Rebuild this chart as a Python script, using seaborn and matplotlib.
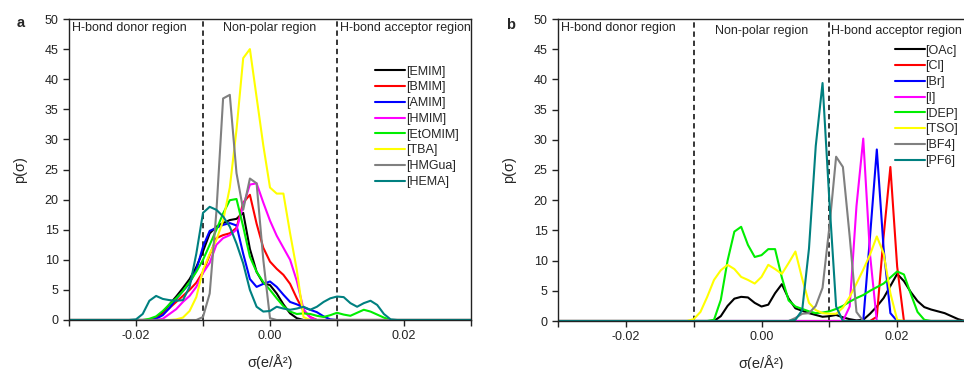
import numpy as np
import pandas as pd
import matplotlib
matplotlib.use('Agg')
import matplotlib.pyplot as plt
from matplotlib.lines import Line2D
import seaborn as sns

# sigma grid of the profiles (e/A^2), step 0.001 from -0.03 to 0.03
sigma = np.round(np.linspace(-0.03, 0.03, 61), 3)

# panel a: cations
cations = ['[EMIM]', '[BMIM]', '[AMIM]', '[HMIM]', '[EtOMIM]', '[TBA]', '[HMGua]', '[HEMA]']
emim = [0] * 10 + \
    [0, 0, 0, 0.3, 1.3, 2.6, 3.9, 5.3, 6.8, 8.8] + \
    [11.4, 14.4, 15.5, 16.1, 16.6, 16.8, 17.8, 11.8, 8.0, 6.1] + \
    [5.8, 4.4, 2.6, 1.1, 0.3, 0, 0, 0, 0, 0] + [0] * 21
bmim = [0] * 10 + \
    [0, 0, 0, 0.3, 1.0, 2.0, 3.0, 4.0, 5.0, 6.2] + \
    [8.0, 10.8, 13.6, 14.1, 14.4, 15.3, 19.5, 20.8, 16.0, 12.0] + \
    [9.7, 8.5, 7.5, 6.0, 3.6, 1.5, 0.5, 0, 0, 0] + [0] * 21
amim = [0] * 10 + \
    [0, 0, 0, 0.2, 0.8, 2.0, 3.5, 4.8, 6.1, 8.3] + \
    [12.2, 14.8, 15.3, 15.8, 16.1, 15.7, 11.0, 6.8, 5.5, 6.0] + \
    [6.4, 5.5, 4.2, 3.0, 2.6, 2.1, 1.7, 1.3, 0.6, 0.1] + [0] * 21
hmim = [0] * 10 + \
    [0, 0, 0, 0, 0.2, 1.0, 1.8, 3.0, 4.0, 5.5] + \
    [7.8, 9.5, 12.5, 13.6, 14.1, 15.0, 19.0, 22.5, 22.7, 19.5] + \
    [16.5, 14.0, 12.0, 10.0, 6.5, 1.8, 0.4, 0, 0, 0] + [0] * 21
etomim = [0] * 10 + \
    [0, 0, 0.2, 0.6, 1.5, 2.6, 3.6, 4.8, 6.3, 8.0] + \
    [10.0, 12.5, 15.0, 17.7, 19.9, 20.1, 15.5, 10.5, 8.0, 6.3] + \
    [5.0, 3.6, 2.3, 1.4, 1.0, 1.1, 1.0, 0.7, 0.5, 0.8] + \
    [1.2, 0.9, 0.7, 1.2, 1.7, 1.4, 0.9, 0.4, 0, 0] + [0] * 11
tba = [0] * 10 + \
    [0, 0, 0, 0, 0, 0, 0.1, 0.4, 1.5, 3.8] + \
    [8.3, 11.0, 13.3, 16.5, 22.0, 31.6, 43.5, 45.0, 37.0, 29.0] + \
    [22.0, 21.0, 21.0, 14.4, 8.3, 0.5, 0, 0, 0, 0] + [0] * 21
hmgua = [0] * 20 + \
    [0.5, 4.4, 18.0, 36.8, 37.4, 24.4, 18.3, 23.5, 22.7, 10.0] + \
    [0.3, 0, 0, 0, 0, 0, 0, 0, 0, 0] + [0] * 21
hema = [0] * 10 + \
    [0.1, 1.0, 3.2, 4.0, 3.5, 3.3, 3.2, 3.3, 5.5, 11.0] + \
    [17.8, 18.8, 18.3, 17.2, 15.5, 12.7, 9.4, 5.0, 2.2, 1.4] + \
    [1.5, 2.2, 1.9, 1.7, 1.9, 2.2, 1.7, 2.2, 3.0, 3.6] + \
    [3.9, 3.8, 2.8, 2.2, 2.8, 3.2, 2.5, 1.0, 0.1, 0] + [0] * 11

# panel b: anions
anions = ['[OAc]', '[Cl]', '[Br]', '[I]', '[DEP]', '[TSO]', '[BF4]', '[PF6]']
oac = [0] * 20 + \
    [0, 0, 0, 0, 0.8, 2.5, 3.7, 4.0, 3.9, 3.0] + \
    [2.4, 2.7, 4.6, 6.1, 3.7, 2.1, 1.7, 1.3, 1.0, 0.7] + \
    [0.8, 1.0, 0.6, 0.3, 0.1, 0.2, 1.2, 2.4, 3.8, 5.8] + \
    [7.8, 6.6, 4.8, 3.3, 2.3, 1.9, 1.6, 1.3, 0.8, 0.3, 0]
cl = [0] * 40 + \
    [0, 0, 0, 0, 0, 0, 0, 0.7, 14.0, 25.5] + \
    [9.0, 0, 0, 0, 0, 0, 0, 0, 0, 0, 0]
br = [0] * 40 + \
    [0, 0, 0, 0, 0, 0, 14.0, 28.4, 12.0, 1.3] + [0] * 11
iodide = [0] * 40 + \
    [0, 0, 0, 2.4, 19.0, 30.2, 11.0, 0, 0, 0] + [0] * 11
dep = [0] * 20 + \
    [0, 0, 0, 0.2, 3.5, 10.0, 14.8, 15.6, 12.6, 10.6] + \
    [10.9, 11.9, 11.9, 7.2, 3.4, 2.4, 2.0, 1.6, 1.3, 1.4] + \
    [1.6, 2.0, 2.5, 3.2, 3.8, 4.3, 5.0, 5.6, 6.2, 7.2] + \
    [8.2, 7.7, 4.5, 1.5, 0.2, 0, 0, 0, 0, 0, 0]
tso = [0] * 20 + \
    [0.3, 1.5, 4.0, 6.8, 8.4, 9.3, 8.6, 7.3, 6.8, 6.2] + \
    [7.3, 9.3, 8.6, 7.8, 9.6, 11.5, 7.0, 3.0, 1.8, 1.3] + \
    [1.2, 1.2, 2.2, 4.0, 6.2, 8.5, 11.0, 14.0, 11.2, 4.6] + \
    [0.2, 0, 0, 0, 0, 0, 0, 0, 0, 0, 0]
bf4 = [0] * 30 + \
    [0, 0, 0, 0, 0, 0.5, 1.2, 1.3, 2.5, 5.5] + \
    [15.5, 27.2, 25.5, 14.0, 1.5, 0, 0, 0, 0, 0] + [0] * 11
pf6 = [0] * 30 + \
    [0, 0, 0, 0, 0, 0.2, 1.8, 12.0, 29.0, 39.4] + \
    [20.0, 2.4, 0, 0, 0, 0, 0, 0, 0, 0] + [0] * 11

colors = ['#000000', '#ff0000', '#0000ff', '#ff00ff', '#00ee00', '#ffff00', '#808080', '#008080']

df_a = pd.DataFrame({
    'sigma': np.tile(sigma, len(cations)),
    'p': np.concatenate([emim, bmim, amim, hmim, etomim, tba, hmgua, hema]),
    'ion': np.repeat(cations, len(sigma)),
})
df_b = pd.DataFrame({
    'sigma': np.tile(sigma, len(anions)),
    'p': np.concatenate([oac, cl, br, iodide, dep, tso, bf4, pf6]),
    'ion': np.repeat(anions, len(sigma)),
})

sns.set_style('ticks')
plt.rcParams['font.family'] = ['Liberation Sans', 'DejaVu Sans']

fig = plt.figure(figsize=(9.64, 3.69), dpi=100)
ax_a = fig.add_axes([69 / 964, 49 / 369, 402 / 964, 301 / 369])
ax_b = fig.add_axes([558 / 964, 48 / 369, 407 / 964, 302 / 369])

panels = [(ax_a, df_a, cations, (0.762, 0.845)), (ax_b, df_b, anions, (0.828, 0.915))]
for ax, df, names, leg_pos in panels:
    sns.lineplot(data=df, x='sigma', y='p', hue='ion', hue_order=names, palette=colors,
                 lw=1.5, estimator=None, sort=False, legend=False, ax=ax)
    for xv in (-0.01, 0.01):
        ax.axvline(xv, color='black', ls=(0, (3.5, 2.5)), lw=1.1, zorder=1)
    ax.set_xlim(-0.03, 0.03)
    ax.set_ylim(0, 50)
    ax.set_xticks([-0.03, -0.02, -0.01, 0.0, 0.01, 0.02, 0.03])
    ax.set_xticklabels(['', '-0.02', '', '0.00', '', '0.02', ''])
    ax.set_yticks(range(0, 51, 5))
    ax.tick_params(direction='out', length=4, width=1, labelsize=9, colors='#222222')
    for s in ax.spines.values():
        s.set_linewidth(1.0)
        s.set_color('#222222')
    ax.set_xlabel('σ(e/Å²)', fontsize=10.5)
    ax.set_ylabel('p(σ)', fontsize=10.5)
    ax.xaxis.set_label_coords(0.5, -0.112)
    ax.yaxis.set_label_coords(-0.104, 0.5)
    handles = [Line2D([], [], color=c, lw=1.5) for c in colors]
    ax.legend(handles, names, loc='upper left', bbox_to_anchor=leg_pos, frameon=False,
              fontsize=9, handlelength=2.4, handletextpad=0.05, labelspacing=0.3,
              borderpad=0, borderaxespad=0)

ax_a.text(-0.0295, 48.5, 'H-bond donor region', fontsize=9, va='center', ha='left')
ax_a.text(0.0, 48.5, 'Non-polar region', fontsize=9, va='center', ha='center')
ax_a.text(0.0104, 48.5, 'H-bond acceptor region', fontsize=9, va='center', ha='left')
ax_b.text(-0.0295, 48.5, 'H-bond donor region', fontsize=9, va='center', ha='left')
ax_b.text(0.0, 48.0, 'Non-polar region', fontsize=9, va='center', ha='center')
ax_b.text(0.0102, 48.0, 'H-bond acceptor region', fontsize=9, va='center', ha='left',
          clip_on=False)

fig.text(0.021, 0.938, 'a', fontsize=10.5, fontweight='bold', ha='center', va='center')
fig.text(0.530, 0.932, 'b', fontsize=10.5, fontweight='bold', ha='center', va='center')

fig.savefig('out.png', dpi=100)
